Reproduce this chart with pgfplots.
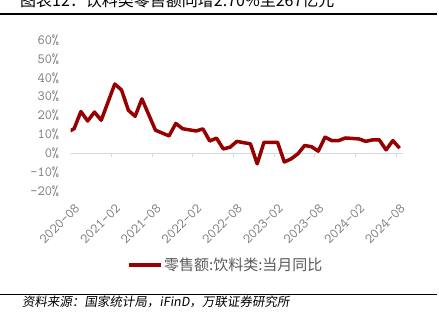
\documentclass[border=0pt]{standalone}
\usepackage{fontspec}
\usepackage{pgfplots}
\pgfplotsset{compat=1.18}
\newfontfamily\cjk{Noto Sans CJK SC}
\newfontfamily\cjksl[FakeSlant=0.15]{Noto Sans CJK SC}
\definecolor{lred}{RGB}{150,0,0}
\definecolor{tickgray}{RGB}{120,120,120}
\definecolor{axgray}{RGB}{217,217,217}
\definecolor{leggray}{RGB}{89,89,89}
\pgfplotstableread{
x y
-0.5 11.1
0.5 13.0
1.5 22.1
2.5 17.1
3.5 21.8
4.5 17.5
6.5 36.7
7.5 33.5
8.5 22.8
9.5 19.6
10.5 28.8
11.5 20.5
12.5 12.2
13.5 10.7
14.5 9.2
15.5 15.8
16.5 13.0
18.5 11.8
19.5 12.9
20.5 6.5
21.5 8.0
22.5 2.3
23.5 3.2
24.5 6.3
25.5 5.6
26.5 5.0
27.5 -5.6
28.5 5.8
30.5 5.8
31.5 -4.6
32.5 -3.0
33.5 -0.3
34.5 4.1
35.5 3.5
36.5 1.1
37.5 8.5
38.5 6.7
39.5 6.7
40.5 8.1
42.5 7.6
43.5 6.3
44.5 7.1
45.5 7.1
46.5 1.8
47.5 6.7
48.5 2.7
}\datatable
\begin{document}
\begin{tikzpicture}[x=1bp,y=1bp]
\useasboundingbox (0,0) rectangle (439,328);
\node[anchor=base west, inner sep=0, font=\cjk\fontsize{16bp}{18bp}\selectfont] at (20,322) {图表12：饮料类零售额同增2.70\%至267亿元};
\draw[line width=2bp] (0,314) -- (437,314);
\draw[line width=1.8bp] (0,33.5) -- (437,33.5);
\node[anchor=base west, inner sep=0, font=\cjksl\fontsize{12.5bp}{14bp}\selectfont] at (22,21.5) {资料来源：国家统计局，iFinD，万联证券研究所};
\begin{axis}[at={(70.7bp,137bp)}, anchor=south west, scale only axis,
  width=332.3bp, height=151bp,
  xmin=0, xmax=49, ymin=-20, ymax=60,
  axis line style={draw=none}, major tick length=0,
  xtick={0,6,...,48},
  xticklabels={2020-08,2021-02,2021-08,2022-02,2022-08,2023-02,2023-08,2024-02,2024-08},
  ytick={-20,-10,...,60},
  yticklabels={-20\%,-10\%,0\%,10\%,20\%,30\%,40\%,50\%,60\%},
  xticklabel style={xshift=3.4bp, yshift=-7bp, font=\ttfamily\fontsize{14bp}{14bp}\selectfont, text=tickgray, rotate=45, anchor=north east},
  yticklabel style={font=\ttfamily\fontsize{14bp}{14bp}\selectfont, text=tickgray, anchor=east, xshift=-8bp},
  legend style={at={(0.466,-0.49)}, anchor=center, draw=none, fill=none,
    font=\cjk\fontsize{15bp}{16bp}\selectfont\color{leggray},
    nodes={inner sep=1.5bp}},
  legend image code/.code={\draw[#1, line width=3.5bp] (0bp,0bp) -- (32bp,0bp);},
]
\draw[axgray, line width=1bp] (axis cs:0,0) -- (axis cs:49,0);
\pgfplotsinvokeforeach{0,6,...,48}{\draw[axgray, line width=1bp] (axis cs:#1,0) -- ++(0bp,-4bp);}
\addplot[lred, line width=3.5bp, line join=round] table[x=x,y=y]{\datatable};
\addlegendentry{零售额:饮料类:当月同比}
\end{axis}
\end{tikzpicture}
\end{document}
